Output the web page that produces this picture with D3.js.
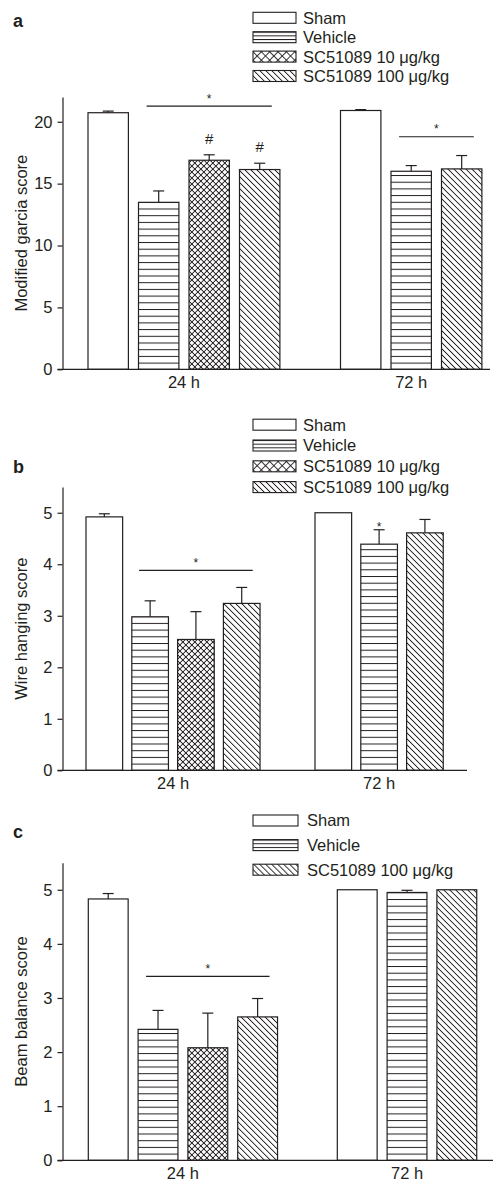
<!DOCTYPE html>
<html>
<head>
<meta charset="utf-8">
<script src="https://cdn.jsdelivr.net/npm/d3@7"></script>
<style>
	body { margin: 0; background: #fff; }
	svg text { font-family: "Liberation Sans", Arial, Helvetica, sans-serif; fill: #231f20; }
</style>
</head>
<body>
<div id="chart"></div>
<script>
// groups and time points
var groups = ['Sham', 'Vehicle', 'SC51089 10 \u03bcg/kg', 'SC51089 100 \u03bcg/kg'];
var fills = ['none', 'hz', 'cross', 'diag'];
var times = ['24 h', '72 h'];
var groups72 = [0, 1, 3];   // groups measured at 72 h

// a: modified garcia score (mean, sem)
var garciaMean24 = [20.73, 13.49, 16.89, 16.14];
var garciaSem24 = [0.13, 0.92, 0.44, 0.51];
var garciaMean72 = [20.91, 16.0, 16.19];
var garciaSem72 = [0.07, 0.46, 1.08];
var garciaTicks = [0, 5, 10, 15, 20];
var garciaBrackets = [{time: '24 h', from: 1, to: 3, level: 21.26},
	{time: '72 h', from: 1, to: 3, level: 18.79}];
var garciaMarks = [{time: '24 h', group: 2, sym: '#'}, {time: '24 h', group: 3, sym: '#'}];

// b: wire hanging score
var wireMean24 = [4.92, 2.98, 2.54, 3.24];
var wireSem24 = [0.06, 0.31, 0.54, 0.31];
var wireMean72 = [5.0, 4.39, 4.61];
var wireSem72 = [0, 0.28, 0.26];
var wireTicks = [0, 1, 2, 3, 4, 5];
var wireBrackets = [{time: '24 h', from: 1, to: 3, level: 3.88}];
var wireMarks = [{time: '72 h', group: 1, sym: '*'}];

// c: beam balance score
var beamMean24 = [4.83, 2.42, 2.08, 2.65];
var beamSem24 = [0.10, 0.35, 0.64, 0.34];
var beamMean72 = [5.0, 4.95, 5.0];
var beamSem72 = [0, 0.04, 0];
var beamTicks = [0, 1, 2, 3, 4, 5];
var beamBrackets = [{time: '24 h', from: 1, to: 3, level: 3.40}];
var beamMarks = [];

var panels = [
	{key: 'a', ylabel: 'Modified garcia score', yMax: 22, ticks: garciaTicks,
		mean24: garciaMean24, sem24: garciaSem24, mean72: garciaMean72, sem72: garciaSem72,
		legend: [0, 1, 2, 3], brackets: garciaBrackets, marks: garciaMarks,
		top: 97, base: 369.3, x0: 88, step: 50.5, right: 490, letterY: 26.5,
		legY: 17.8, legStep: 19.4, legW: 43, legText: 303},
	{key: 'b', ylabel: 'Wire hanging score', yMax: 5.5, ticks: wireTicks,
		mean24: wireMean24, sem24: wireSem24, mean72: wireMean72, sem72: wireSem72,
		legend: [0, 1, 2, 3], brackets: wireBrackets, marks: wireMarks,
		top: 487, base: 770.3, x0: 86, step: 45.8, right: 467, letterY: 473,
		legY: 424.7, legStep: 20.8, legW: 43, legText: 303},
	{key: 'c', ylabel: 'Beam balance score', yMax: 5.5, ticks: beamTicks,
		mean24: beamMean24, sem24: beamSem24, mean72: beamMean72, sem72: beamSem72,
		legend: [0, 1, 3], brackets: beamBrackets, marks: beamMarks,
		top: 862.7, base: 1160.3, x0: 88.3, step: 49.8, right: 493, letterY: 838,
		legY: 820.5, legStep: 24.6, legW: 45, legText: 307}
];

var ink = '#231f20';
var axisX = 62.5;

var svg = d3.select('#chart').append('svg')
	.attr('width', 493)
	.attr('height', 1182);
var defs = svg.append('defs');

// hatch pattern, origin at (ox, oy)
function addPattern(id, type, ox, oy, s) {
	var p = defs.append('pattern')
		.attr('id', id)
		.attr('patternUnits', 'userSpaceOnUse');
	if (type === 'hz') {
		p.attr('x', 0).attr('y', oy).attr('width', 10).attr('height', s);
		p.append('rect').attr('x', 0).attr('y', 0).attr('width', 10).attr('height', 1).attr('fill', ink);
	} else {
		p.attr('width', s).attr('height', s)
			.attr('patternTransform', 'translate(' + ox + ',' + oy + ') rotate(' + (type === 'cross' ? 45 : -45) + ')');
		p.append('rect').attr('x', 0).attr('y', 0).attr('width', 0.9).attr('height', s).attr('fill', ink);
		if (type === 'cross') {
			p.append('rect').attr('x', 0).attr('y', 0).attr('width', s).attr('height', 0.9).attr('fill', ink);
		}
	}
	return 'url(#' + id + ')';
}

function slotKey(time, g) { return time + '|' + g; }

panels.forEach(function (P) {
	var slots = groups.map(function (g, i) { return slotKey(times[0], i); })
		.concat(['gap'])
		.concat(groups72.map(function (i) { return slotKey(times[1], i); }));

	var x = d3.scaleBand()
		.domain(slots)
		.range([P.x0 - 0.1 * P.step, P.x0 + 7.9 * P.step])
		.paddingInner(0.2)
		.paddingOuter(0.1);
	var bw = x.bandwidth();
	var y = d3.scaleLinear().domain([0, P.yMax]).range([P.base, P.top]);

	var fillUrl = {
		none: '#fff',
		hz: addPattern('hz-' + P.key, 'hz', 0, P.base, 6.7),
		cross: addPattern('cross-' + P.key, 'cross', 0, P.base, 4.24),
		diag: addPattern('diag-' + P.key, 'diag', 0, P.base, 4.24)
	};

	var rows = [];
	P.mean24.forEach(function (m, i) {
		rows.push({time: times[0], group: i, mean: m, sem: P.sem24[i]});
	});
	P.mean72.forEach(function (m, j) {
		rows.push({time: times[1], group: groups72[j], mean: m, sem: P.sem72[j]});
	});

	var g = svg.append('g');

	// bars
	g.selectAll('rect.bar')
		.data(rows)
		.enter()
		.append('rect')
		.attr('class', 'bar')
		.attr('x', function (d) { return x(slotKey(d.time, d.group)); })
		.attr('y', function (d) { return y(d.mean); })
		.attr('width', bw)
		.attr('height', function (d) { return P.base - y(d.mean); })
		.attr('fill', function (d) { return fillUrl[fills[d.group]]; })
		.attr('stroke', ink)
		.attr('stroke-width', 1.2);

	// error bars (upper only)
	var err = g.selectAll('g.err')
		.data(rows.filter(function (d) { return d.sem > 0; }))
		.enter()
		.append('g')
		.attr('stroke', ink)
		.attr('stroke-width', 1.2);
	err.append('line')
		.attr('x1', function (d) { return x(slotKey(d.time, d.group)) + bw / 2; })
		.attr('x2', function (d) { return x(slotKey(d.time, d.group)) + bw / 2; })
		.attr('y1', function (d) { return y(d.mean); })
		.attr('y2', function (d) { return y(d.mean + d.sem); });
	err.append('line')
		.attr('x1', function (d) { return x(slotKey(d.time, d.group)) + bw / 2 - 5.5; })
		.attr('x2', function (d) { return x(slotKey(d.time, d.group)) + bw / 2 + 5.5; })
		.attr('y1', function (d) { return y(d.mean + d.sem); })
		.attr('y2', function (d) { return y(d.mean + d.sem); });

	// significance brackets
	P.brackets.forEach(function (b) {
		var x1 = x(slotKey(b.time, b.from)) + 0.2 * bw;
		var x2 = x(slotKey(b.time, b.to)) + 0.8 * bw;
		g.append('line')
			.attr('x1', x1).attr('x2', x2)
			.attr('y1', y(b.level)).attr('y2', y(b.level))
			.attr('stroke', ink).attr('stroke-width', 1.2);
		g.append('text')
			.attr('x', (x1 + x2) / 2)
			.attr('y', y(b.level) - 3.5)
			.attr('text-anchor', 'middle')
			.style('font-size', '12px')
			.text('*');
	});

	// marks over single bars
	P.marks.forEach(function (m) {
		var row = rows.filter(function (d) { return d.time === m.time && d.group === m.group; })[0];
		g.append('text')
			.attr('x', x(slotKey(m.time, m.group)) + bw / 2)
			.attr('y', y(row.mean + row.sem) - (m.sym === '#' ? 11 : -1))
			.attr('text-anchor', 'middle')
			.style('font-size', m.sym === '#' ? '15px' : '12px')
			.text(m.sym);
	});

	// y axis
	var yAxis = g.append('g')
		.attr('transform', 'translate(' + axisX + ',0)')
		.call(d3.axisLeft(y).tickValues(P.ticks).tickFormat(d3.format('d'))
			.tickSize(5).tickPadding(5).tickSizeOuter(0));
	yAxis.selectAll('path, line').attr('stroke', ink).attr('stroke-width', 1.2);
	yAxis.selectAll('text')
		.attr('fill', ink)
		.style('font-size', '16.5px')
		.style('font-family', '"Liberation Sans", Arial, sans-serif');

	// x axis line and time labels
	g.append('line')
		.attr('x1', axisX - 5).attr('x2', P.right)
		.attr('y1', P.base).attr('y2', P.base)
		.attr('stroke', ink).attr('stroke-width', 1.2);
	times.forEach(function (t) {
		var keys = slots.filter(function (k) { return k.indexOf(t + '|') === 0; });
		var left = x(keys[0]);
		var right = x(keys[keys.length - 1]) + bw;
		g.append('text')
			.attr('x', (left + right) / 2)
			.attr('y', P.base + 18.5)
			.attr('text-anchor', 'middle')
			.style('font-size', '16.5px')
			.text(t);
	});

	// y label
	g.append('text')
		.attr('transform', 'translate(27,' + ((P.top + P.base) / 2) + ') rotate(-90)')
		.attr('text-anchor', 'middle')
		.style('font-size', '16.5px')
		.text(P.ylabel);

	// panel letter
	g.append('text')
		.attr('x', 13)
		.attr('y', P.letterY)
		.style('font-size', '18px')
		.style('font-weight', 'bold')
		.text(P.key);

	// legend
	P.legend.forEach(function (gi, r) {
		var cy = P.legY + r * P.legStep;
		var bx = 253, by = cy - 5.5;
		var f = '#fff';
		if (fills[gi] === 'hz') f = addPattern('leg-' + P.key + r, 'hz', bx, by, 11 / 3);
		if (fills[gi] === 'cross') f = addPattern('leg-' + P.key + r, 'cross', bx, by, 5.9);
		if (fills[gi] === 'diag') f = addPattern('leg-' + P.key + r, 'diag', bx, by, 4.24);
		g.append('rect')
			.attr('x', bx).attr('y', by)
			.attr('width', P.legW).attr('height', 11)
			.attr('fill', f)
			.attr('stroke', ink).attr('stroke-width', 1.1);
		g.append('text')
			.attr('x', P.legText)
			.attr('y', cy + 5.9)
			.style('font-size', '16.5px')
			.text(groups[gi]);
	});
});
</script>
</body>
</html>
